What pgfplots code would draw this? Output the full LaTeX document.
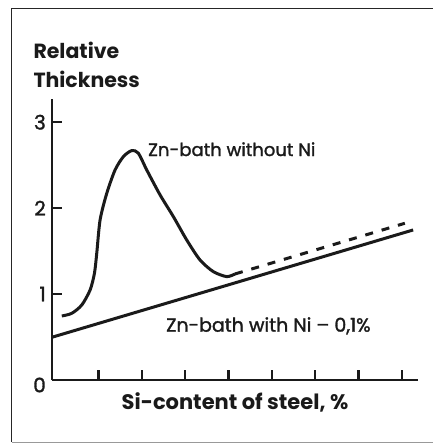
\documentclass[border=0pt]{standalone}
\usepackage{pgfplots}
\pgfplotsset{compat=1.18}
\usepackage{fontspec}
\setmainfont{Poppins}
\newfontfamily\medfont{Poppins}[FakeBold=1.5]
\definecolor{ink}{HTML}{1A1A1A}
\begin{document}
\begin{tikzpicture}[x=1pt,y=1pt]
\useasboundingbox (0,0) rectangle (433,-444);
\draw[line width=1.4pt, black!85] (433,-8.3) -- (11.7,-8.3) -- (11.7,-442.3);
\draw[line width=1.2pt, black!40] (11.7,-442.3) -- (433,-442.3);
\begin{axis}[
  at={(52pt,-380pt)}, anchor=south west,
  scale only axis, width=366pt, height=281pt,
  xmin=-0.07, xmax=8.37, ymin=0, ymax=3.27,
  axis lines=left, axis line style={-, line width=2.8pt, ink},
  xtick={1,2,3,4,5,6,7,8}, xticklabels={},
  ytick={1,2,3},
  extra y ticks={0},
  extra y tick style={yticklabel style={yshift=-5pt}},
  tick align=inside, major tick length=10pt,
  tick style={line width=2.5pt, ink},
  /pgf/number format/assume math mode=true,
  yticklabel style={font=\medfont\fontsize{20}{20}\selectfont, text=ink, inner sep=0pt, xshift=-6pt},
  clip=false,
]
\addplot[ink, line width=3pt, smooth, tension=0.45] coordinates {
(0.156,0.745) (0.386,0.776) (0.617,0.873) (0.809,1.048) (0.909,1.242)
(0.962,1.475) (1.039,1.863) (1.193,2.173) (1.385,2.445) (1.577,2.600)
(1.769,2.670) (1.922,2.639) (2.114,2.445) (2.422,2.154) (2.729,1.901)
(3.036,1.630) (3.343,1.397) (3.650,1.261) (3.958,1.203) (4.150,1.234)
};
\addplot[ink, line width=3pt, dash pattern=on 8pt off 9pt] coordinates {
(4.150,1.234) (8.067,1.824)
};
\addplot[ink, line width=3pt] coordinates {
(-0.074,0.497) (8.258,1.746)
};
\end{axis}
\node[anchor=base west, inner sep=0pt, font=\bfseries\fontsize{20.5}{20.5}\selectfont, text=ink] at (33.3,-58.3) {Relative};
\node[anchor=base west, inner sep=0pt, font=\bfseries\fontsize{20.5}{20.5}\selectfont, text=ink] at (33.3,-87.3) {Thickness};
\node[anchor=base west, inner sep=0pt, font=\medfont\fontsize{18}{18}\selectfont, text=ink] at (148,-156) {Zn-bath without Ni};
\node[anchor=base west, inner sep=0pt, font=\medfont\fontsize{19}{19}\selectfont, text=ink] at (166,-331.7) {Zn-bath with Ni – 0,1\%};
\node[anchor=base, inner sep=0pt, font=\bfseries\fontsize{21}{21}\selectfont, text=ink] at (235,-409.3) {Si-content of steel, \%};
\end{tikzpicture}
\end{document}
